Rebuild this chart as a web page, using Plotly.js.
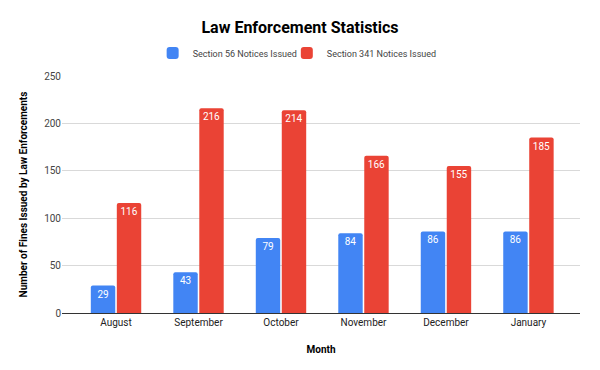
<!DOCTYPE html>
<html><head><meta charset="utf-8">
<script src="https://cdn.plot.ly/plotly-3.0.1.min.js"></script>
<style>html,body{margin:0;padding:0;background:#fff}#chart{width:600px;height:370px}</style>
</head><body><div id="chart"></div>
<script>
var months = ["August","September","October","November","December","January"];
var section56 = [29,43,79,84,86,86];
var section341 = [116,216,214,166,155,185];
var seriesNames = ["Section 56 Notices Issued","Section 341 Notices Issued"];

function mk(name, vals, color, lg){
  return {type:"bar", name:name, x:months, y:vals, text:vals.map(String), legend:lg,
    textposition:"inside", insidetextanchor:"end", textangle:0,
    textfont:{color:"#fff", size:10, family:"Roboto, Arial, sans-serif"},
    marker:{color:color, cornerradius:2}, hoverinfo:"x+y"};
}
var data = [mk(seriesNames[0], section56, "#4285F4", "legend2"), mk(seriesNames[1], section341, "#EA4335", "legend")];
var lgBase = {orientation:"h", xanchor:"left", y:1.097, yanchor:"middle", font:{size:9, color:"#444"}, itemwidth:30, bgcolor:"rgba(0,0,0,0)"};
var layout = {
  width:600, height:370, paper_bgcolor:"#fff", plot_bgcolor:"#fff",
  margin:{l:62, r:20, t:76, b:57},
  font:{family:"Roboto, Arial, sans-serif", color:"#222"},
  title:{text:"<b>Law Enforcement Statistics</b>", x:0.5, xanchor:"center", y:0.925, yanchor:"middle", font:{size:16, color:"#000"}},
  showlegend:true,
  legend2:Object.assign({}, lgBase, {x:0.175}),
  legend:Object.assign({}, lgBase, {x:0.434}),
  barmode:"group", bargap:0.37, bargroupgap:0.06,
  xaxis:{range:[-0.655,5.625], showgrid:false, showline:true, linecolor:"#333", linewidth:1, ticks:"", tickfont:{size:10, color:"#222"},
    title:{text:"<b>Month</b>", font:{size:10, color:"#000"}, standoff:18}},
  yaxis:{range:[0,250], dtick:50, gridcolor:"#d9d9d9", zeroline:false, showline:false, ticks:"", tickfont:{size:10, color:"#444"},
    title:{text:"<b>Number of Fines Issued by Law Enforcements</b>", font:{size:10, color:"#000"}, standoff:14}}
};
Plotly.newPlot("chart", data, layout, {displayModeBar:false, staticPlot:true});
</script></body></html>
